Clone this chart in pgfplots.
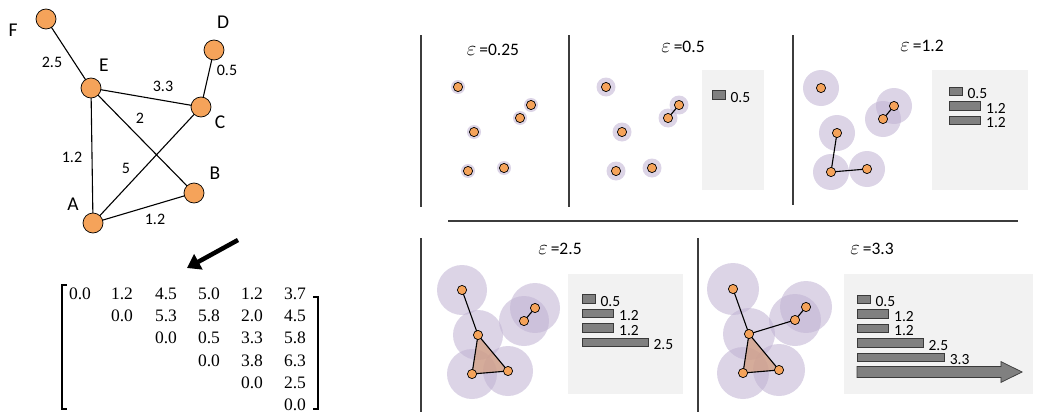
\documentclass[border=0pt]{standalone}
\usepackage{pgfplots}
\pgfplotsset{compat=1.18}
\usetikzlibrary{arrows.meta}
\usepackage{fontspec}
\newfontfamily\carl{Carlito}
\newfontfamily\mserif{Liberation Serif}

\definecolor{vertex}{HTML}{F5A35A}
\definecolor{halo}{HTML}{BFB1D2}
\definecolor{simplex}{HTML}{D39B7B}
\definecolor{panel}{HTML}{F2F2F2}
\definecolor{barfill}{HTML}{808080}
\definecolor{barline}{HTML}{3A3A3A}
\definecolor{rule}{HTML}{3C3C3C}

\pgfplotsset{
  edge/.style={black, line width=1.1pt},
  vtx/.style={only marks, mark=*, mark size=#1,
    mark options={fill=vertex, draw=black, line width=0.7pt}},
  ball/.style={only marks, mark=*, mark size=#1,
    mark options={fill=halo, draw=halo, draw opacity=0, fill opacity=0.55}},
  sep/.style={rule, line width=1.8pt},
  box/.style={fill=panel, draw=none},
  barcode/.style={hide axis, clip=false, x=26.5pt, y=14.5pt, y dir=reverse,
    xmin=0, xmax=6.5, ymin=0, ymax=7, anchor=north west},
  bars/.style={xbar, bar width=8.5pt, bar shift=0pt, fill=barfill, draw=barline,
    line width=0.7pt, point meta=x,
    nodes near coords={\pgfmathprintnumber[fixed,fixed zerofill,precision=1,assume math mode=true]{\pgfplotspointmeta}},
    every node near coord/.append style={font=\carl\fontsize{15.5}{15.5}\selectfont,
      anchor=west, inner sep=1pt, xshift=4pt, yshift=-2.5pt, black}},
}
\newcommand{\edge}[4]{\addplot[edge] coordinates {(#1,#2) (#3,#4)};}
\newcommand{\lab}[3]{\node[font=\carl\fontsize{#3}{#3}\selectfont] at (axis cs:#1,#2)}
\newcommand{\eps}[1]{{\fontsize{20}{20}\selectfont$\varepsilon$}\,=#1}

\begin{document}
\begin{tikzpicture}
\begin{axis}[name=main, at={(0,0)}, anchor=south west,
  x=1pt, y=1pt, xmin=0, xmax=1041, ymin=0, ymax=415, y dir=reverse,
  axis line style={draw=none}, xtick=\empty, ytick=\empty, clip=false,
  clip marker paths=true]

% ---- weighted graph ----
\edge{46}{19}{91}{88}
\edge{214}{50}{201}{107}
\edge{91}{88}{201}{107}
\edge{91}{88}{194}{193}
\edge{91}{88}{93}{223}
\edge{93}{223}{201}{107}
\edge{93}{223}{194}{193}
\addplot[vtx=10pt] coordinates {(46,19) (214,50) (91,88) (201,107) (194,193) (93,223)};
\lab{13}{30}{19.5}{F};
\lab{223}{22}{19.5}{D};
\lab{104}{65}{19.5}{E};
\lab{220}{122}{19.5}{C};
\lab{215}{173}{19.5}{B};
\lab{73}{204}{19.5}{A};
\lab{52}{62}{16}{2.5};
\lab{227}{70}{16}{0.5};
\lab{163}{86}{16}{3.3};
\lab{140}{118}{16}{2};
\lab{72}{157}{16}{1.2};
\lab{126}{168}{16}{5};
\lab{155}{219}{16}{1.2};

% ---- arrow to the distance matrix ----
\addplot[black, line width=4.5pt, -{Triangle[length=13pt,width=17pt]}]
  coordinates {(238,240) (187,268)};

% ---- distance matrix (upper triangle) ----
\addplot[black, line width=1.4pt] coordinates {(67,285) (62,285) (62,409) (67,409)};
\addplot[black, line width=1.4pt] coordinates {(313,297) (318,297) (318,409) (313,409)};
\begingroup
\newcommand{\m}[3]{\node[font=\mserif\fontsize{17.5}{17.5}\selectfont] at (axis cs:#1,#2) {#3};}
\m{80}{294}{0.0}\m{122}{294}{1.2}\m{166}{294}{4.5}\m{209}{294}{5.0}\m{252}{294}{1.2}\m{295}{294}{3.7}
\m{122}{316}{0.0}\m{166}{316}{5.3}\m{209}{316}{5.8}\m{252}{316}{2.0}\m{295}{316}{4.5}
\m{166}{338}{0.0}\m{209}{338}{0.5}\m{252}{338}{3.3}\m{295}{338}{5.8}
\m{209}{361}{0.0}\m{252}{361}{3.8}\m{295}{361}{6.3}
\m{252}{383}{0.0}\m{295}{383}{2.5}
\m{295}{405}{0.0}
\endgroup

% ---- panel frames ----
\addplot[sep] coordinates {(421,35) (421,207)};
\addplot[sep] coordinates {(569,35) (569,207)};
\addplot[sep] coordinates {(793,35) (793,205)};
\addplot[sep] coordinates {(448,221) (1018,221)};
\addplot[sep] coordinates {(421,238) (421,412)};
\addplot[sep] coordinates {(698,238) (698,412)};

\addplot[box] coordinates {(702,70) (764,70) (764,190) (702,190)} --cycle;
\addplot[box] coordinates {(932,70) (1028,70) (1028,190) (932,190)} --cycle;
\addplot[box] coordinates {(568,274) (683,274) (683,394) (568,394)} --cycle;
\addplot[box] coordinates {(844,274) (1033,274) (1033,394) (844,394)} --cycle;

% ---- epsilon = 0.25 ----
\addplot[ball=7pt] coordinates {(458,87) (531,105) (520,118) (474,132) (468,171) (504,168)};
\addplot[vtx=4.6pt] coordinates {(458,87) (531,105) (520,118) (474,132) (468,171) (504,168)};
\lab{493}{50}{17.5}{\eps{0.25}};

% ---- epsilon = 0.5 ----
\addplot[ball=9.5pt] coordinates {(606,87) (679,105) (668,118) (622,132) (616,171) (652,168)};
\edge{679}{105}{668}{118}
\addplot[vtx=4.6pt] coordinates {(606,87) (679,105) (668,118) (622,132) (616,171) (652,168)};
\lab{683}{47}{17.5}{\eps{0.5}};

% ---- epsilon = 1.2 ----
\addplot[ball=18pt] coordinates {(821,88) (894,106) (883,119) (837,133) (831,172) (867,169)};
\edge{894}{106}{883}{119}
\edge{837}{133}{831}{172}
\edge{831}{172}{867}{169}
\addplot[vtx=4.6pt] coordinates {(821,88) (894,106) (883,119) (837,133) (831,172) (867,169)};
\lab{922}{46}{17.5}{\eps{1.2}};

% ---- epsilon = 2.5 ----
\addplot[ball=25pt] coordinates {(462,290) (535,308) (524,321) (478,335) (472,374) (508,371)};
\addplot[fill=simplex, fill opacity=0.7, draw=none] coordinates {(478,335) (472,374) (508,371)} --cycle;
\edge{462}{290}{478}{335}
\edge{535}{308}{524}{321}
\edge{478}{335}{472}{374}
\edge{472}{374}{508}{371}
\edge{478}{335}{508}{371}
\addplot[vtx=4.6pt] coordinates {(462,290) (535,308) (524,321) (478,335) (472,374) (508,371)};
\lab{560}{249}{17.5}{\eps{2.5}};

% ---- epsilon = 3.3 ----
\addplot[ball=26pt] coordinates {(733,289) (806,307) (795,320) (749,334) (743,373) (779,370)};
\addplot[fill=simplex, fill opacity=0.7, draw=none] coordinates {(749,334) (743,373) (779,370)} --cycle;
\edge{733}{289}{749}{334}
\edge{749}{334}{795}{320}
\edge{806}{307}{795}{320}
\edge{749}{334}{743}{373}
\edge{743}{373}{779}{370}
\edge{749}{334}{779}{370}
\addplot[vtx=4.6pt] coordinates {(733,289) (806,307) (795,320) (749,334) (743,373) (779,370)};
\lab{872}{249}{17.5}{\eps{3.3}};

% anchors of the persistence barcodes
\coordinate (b2) at (axis cs:712,80.5);
\coordinate (b3) at (axis cs:949,77);
\coordinate (b4) at (axis cs:582,284.5);
\coordinate (b5) at (axis cs:857,285);
\end{axis}

% ---- persistence barcodes ----
\begin{axis}[barcode, at={(b2)}]
\addplot[bars] coordinates {(0.5,1)};
\end{axis}
\begin{axis}[barcode, at={(b3)}]
\addplot[bars] coordinates {(0.5,1) (1.2,2) (1.2,3)};
\end{axis}
\begin{axis}[barcode, at={(b4)}]
\addplot[bars] coordinates {(0.5,1) (1.2,2) (1.2,3) (2.5,4)};
\end{axis}
\begin{axis}[barcode, at={(b5)}]
\addplot[bars] coordinates {(0.5,1) (1.2,2) (1.2,3) (2.5,4) (3.3,5)};
\addplot[fill=barfill, draw=barline, line width=0.7pt] coordinates
  {(0,5.62) (5.43,5.62) (5.43,5.28) (6.23,6) (5.43,6.72) (5.43,6.38) (0,6.38)} --cycle;
\end{axis}
\end{tikzpicture}
\end{document}
